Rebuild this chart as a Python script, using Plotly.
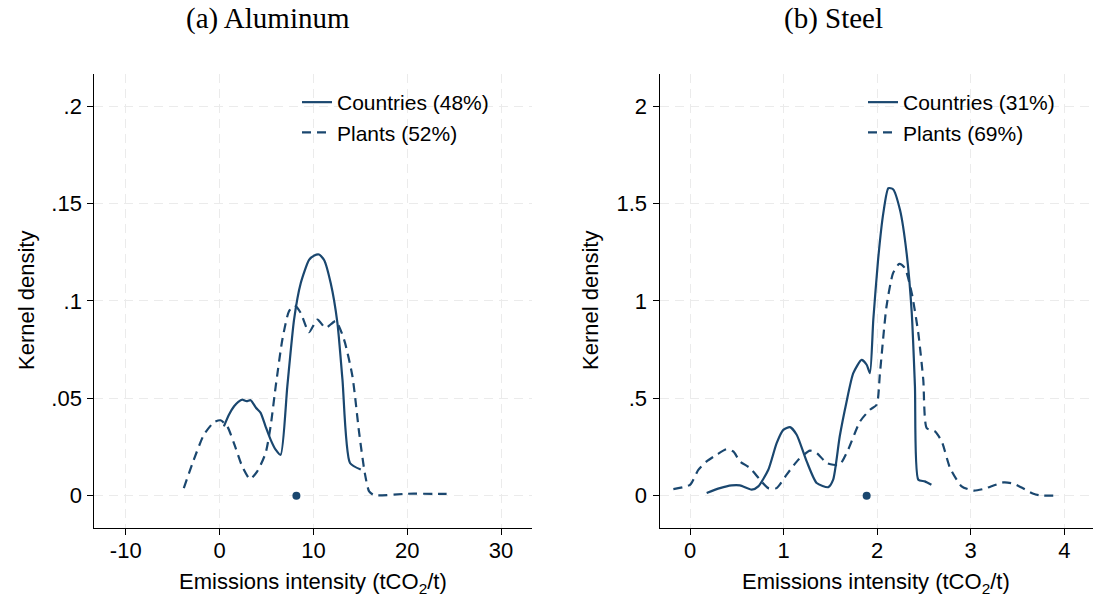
import plotly.graph_objects as go

# ---------------- data ----------------
# (a) Aluminum
alu_countries_x = [0.46, 1.0, 1.55, 2.0, 2.42, 2.88, 3.31, 3.9, 4.38, 4.9, 5.44, 5.98, 6.51,
                   7.22, 7.94, 8.65, 9.54, 10.1, 10.6, 11.14, 11.85, 12.56, 13.1, 13.9, 15.05]
alu_countries_y = [0.0356, 0.0416, 0.0459, 0.0482, 0.0493, 0.0485, 0.0490, 0.0450, 0.0425, 0.0356,
                   0.0288, 0.0236, 0.0210, 0.0560, 0.0904, 0.1090, 0.1210, 0.1233, 0.1238, 0.1210,
                   0.1090, 0.0887, 0.0596, 0.0168, 0.0134]
alu_plants_x = [-3.81, -2.74, -1.67, -0.6, 0.1, 0.82, 1.53, 2.42, 3.24, 4.02, 4.91, 5.44, 5.98,
                6.69, 7.4, 8.0, 8.65, 9.54, 10.43, 11.3, 12.38, 13.27, 14.16, 14.88, 15.48,
                15.94, 16.48, 20.0, 24.2]
alu_plants_y = [0.0039, 0.0185, 0.0313, 0.0377, 0.0387, 0.0356, 0.0270, 0.0150, 0.0086, 0.0125,
                0.0219, 0.0356, 0.0560, 0.0800, 0.0947, 0.0976, 0.0938, 0.0839, 0.0904, 0.0861,
                0.0896, 0.0801, 0.0613, 0.0322, 0.0116, 0.0022, 0.0003, 0.0010, 0.0009]
alu_marker_x = [8.19]
alu_marker_y = [0.0]

# (b) Steel
steel_countries_x = [0.178, 0.32, 0.445, 0.534, 0.66, 0.73, 0.837, 0.926, 0.997, 1.069, 1.14,
                     1.247, 1.354, 1.478, 1.53, 1.6, 1.67, 1.745, 1.834, 1.888, 1.923, 1.959,
                     2.01, 2.066, 2.12, 2.17, 2.244, 2.315, 2.37, 2.404, 2.44, 2.51, 2.58]
steel_countries_y = [0.014, 0.039, 0.053, 0.053, 0.031, 0.048, 0.133, 0.270, 0.338, 0.352, 0.313,
                     0.176, 0.065, 0.044, 0.082, 0.304, 0.475, 0.629, 0.697, 0.672, 0.629, 0.903,
                     1.210, 1.450, 1.578, 1.573, 1.467, 1.245, 0.937, 0.561, 0.082, 0.0735, 0.056]
steel_plants_x = [-0.178, 0.0, 0.089, 0.178, 0.285, 0.392, 0.463, 0.534, 0.641, 0.748, 0.837,
                  0.926, 1.033, 1.158, 1.282, 1.354, 1.46, 1.53, 1.6, 1.69, 1.817, 1.923, 1.995,
                  2.03, 2.1, 2.17, 2.237, 2.297, 2.37, 2.44, 2.493, 2.53, 2.618, 2.69, 2.78,
                  2.903, 3.03, 3.134, 3.35, 3.455, 3.67, 3.74, 3.935]
steel_plants_y = [0.034, 0.056, 0.133, 0.176, 0.210, 0.239, 0.227, 0.176, 0.142, 0.082, 0.039,
                  0.039, 0.108, 0.185, 0.231, 0.219, 0.168, 0.159, 0.159, 0.236, 0.381, 0.441,
                  0.467, 0.629, 0.971, 1.142, 1.190, 1.168, 1.039, 0.834, 0.595, 0.347, 0.330,
                  0.279, 0.142, 0.048, 0.026, 0.034, 0.068, 0.062, 0.010, 0.002, 0.000]
steel_marker_x = [1.888]
steel_marker_y = [0.0]

alu_xticks = [-10, 0, 10, 20, 30]
alu_xticktext = ["-10", "0", "10", "20", "30"]
alu_yticks = [0, 0.05, 0.1, 0.15, 0.2]
alu_yticktext = ["0", ".05", ".1", ".15", ".2"]
steel_xticks = [0, 1, 2, 3, 4]
steel_xticktext = ["0", "1", "2", "3", "4"]
steel_yticks = [0, 0.5, 1, 1.5, 2]
steel_yticktext = ["0", ".5", "1", "1.5", "2"]

alu_names = ["Countries (48%)", "Plants (52%)"]
steel_names = ["Countries (31%)", "Plants (69%)"]
panel_titles = ["(a) Aluminum", "(b) Steel"]

# ---------------- styling ----------------
W, H = 1093, 597
NAVY = "#1a476f"
SANS = "Liberation Sans, Arial, Helvetica, sans-serif"
SERIF = "Liberation Serif, Times New Roman, serif"
FS = 22
DASH = "9px,6px"

fig = go.Figure()

def add_panel(cx, cy, px, py, mx, my, names, xa, ya, leg):
    fig.add_trace(go.Scatter(x=cx, y=cy, mode="lines", name=names[0],
                             line=dict(color=NAVY, width=2.2, shape="spline", smoothing=0.6),
                             xaxis=xa, yaxis=ya, legend=leg))
    fig.add_trace(go.Scatter(x=px, y=py, mode="lines", name=names[1],
                             line=dict(color=NAVY, width=2.2, dash=DASH, shape="spline", smoothing=0.6),
                             xaxis=xa, yaxis=ya, legend=leg))
    fig.add_trace(go.Scatter(x=mx, y=my, mode="markers", showlegend=False,
                             marker=dict(color=NAVY, size=8),
                             xaxis=xa, yaxis=ya))

add_panel(alu_countries_x, alu_countries_y, alu_plants_x, alu_plants_y,
          alu_marker_x, alu_marker_y, alu_names, "x", "y", "legend")
add_panel(steel_countries_x, steel_countries_y, steel_plants_x, steel_plants_y,
          steel_marker_x, steel_marker_y, steel_names, "x2", "y2", "legend2")

ydom = [1 - 527.7 / H, 1 - 74 / H]
common_ax = dict(showline=True, linecolor="black", linewidth=1, ticks="outside", ticklen=6,
                 tickcolor="black", tickwidth=1, showgrid=True, gridcolor="#ebebeb",
                 gridwidth=1.3, griddash=DASH, zeroline=False,
                 tickfont=dict(family=SANS, size=FS, color="black"), mirror=False)

legend_common = dict(xanchor="left", yanchor="top", bgcolor="rgba(0,0,0,0)",
                     font=dict(family=SANS, size=21, color="black"), tracegroupgap=0)

fig.update_layout(
    width=W, height=H,
    margin=dict(l=0, r=0, t=0, b=0),
    paper_bgcolor="white", plot_bgcolor="white",
    showlegend=True,
    xaxis=dict(domain=[94.3 / W, 532 / W], range=[-13.35, 33.3], tickvals=alu_xticks,
               ticktext=alu_xticktext, anchor="y", ticklabelstandoff=-3, **common_ax),
    yaxis=dict(domain=ydom, range=[-0.01642, 0.21642], tickvals=alu_yticks,
               ticktext=alu_yticktext, anchor="x", ticklabelstandoff=1, **common_ax),
    xaxis2=dict(domain=[659.5 / W, 1.0], range=[-0.326, 4.307], tickvals=steel_xticks,
                ticktext=steel_xticktext, anchor="y2", ticklabelstandoff=-3, **common_ax),
    yaxis2=dict(domain=ydom, range=[-0.1642, 2.1642], tickvals=steel_yticks,
                ticktext=steel_yticktext, anchor="x2", ticklabelstandoff=1, **common_ax),
    legend=dict(x=297 / W, y=1 - 82 / H, **legend_common),
    legend2=dict(x=863 / W, y=1 - 82 / H, **legend_common),
)

# panel titles
for cx_px, t in zip([268, 833], panel_titles):
    fig.add_annotation(x=cx_px / W, y=1 - 19 / H, xref="paper", yref="paper",
                       text=t, showarrow=False, xanchor="center", yanchor="middle",
                       font=dict(family=SERIF, size=29, color="black"))

# axis titles
for cx_px in [(94.3 + 532) / 2, (659.5 + W) / 2]:
    fig.add_annotation(x=cx_px / W, y=1 - 583 / H, xref="paper", yref="paper",
                       text="Emissions intensity (tCO<sub>2</sub>/t)", showarrow=False,
                       xanchor="center", yanchor="middle",
                       font=dict(family=SANS, size=FS, color="black"))
for cx_px in [26, 590]:
    fig.add_annotation(x=cx_px / W, y=1 - 301 / H, xref="paper", yref="paper",
                       text="Kernel density", showarrow=False, textangle=-90,
                       xanchor="center", yanchor="middle",
                       font=dict(family=SANS, size=FS, color="black"))

fig.write_html("out.html", config={"displayModeBar": False},
               post_script="document.body.style.margin='0';document.body.style.padding='0';")
